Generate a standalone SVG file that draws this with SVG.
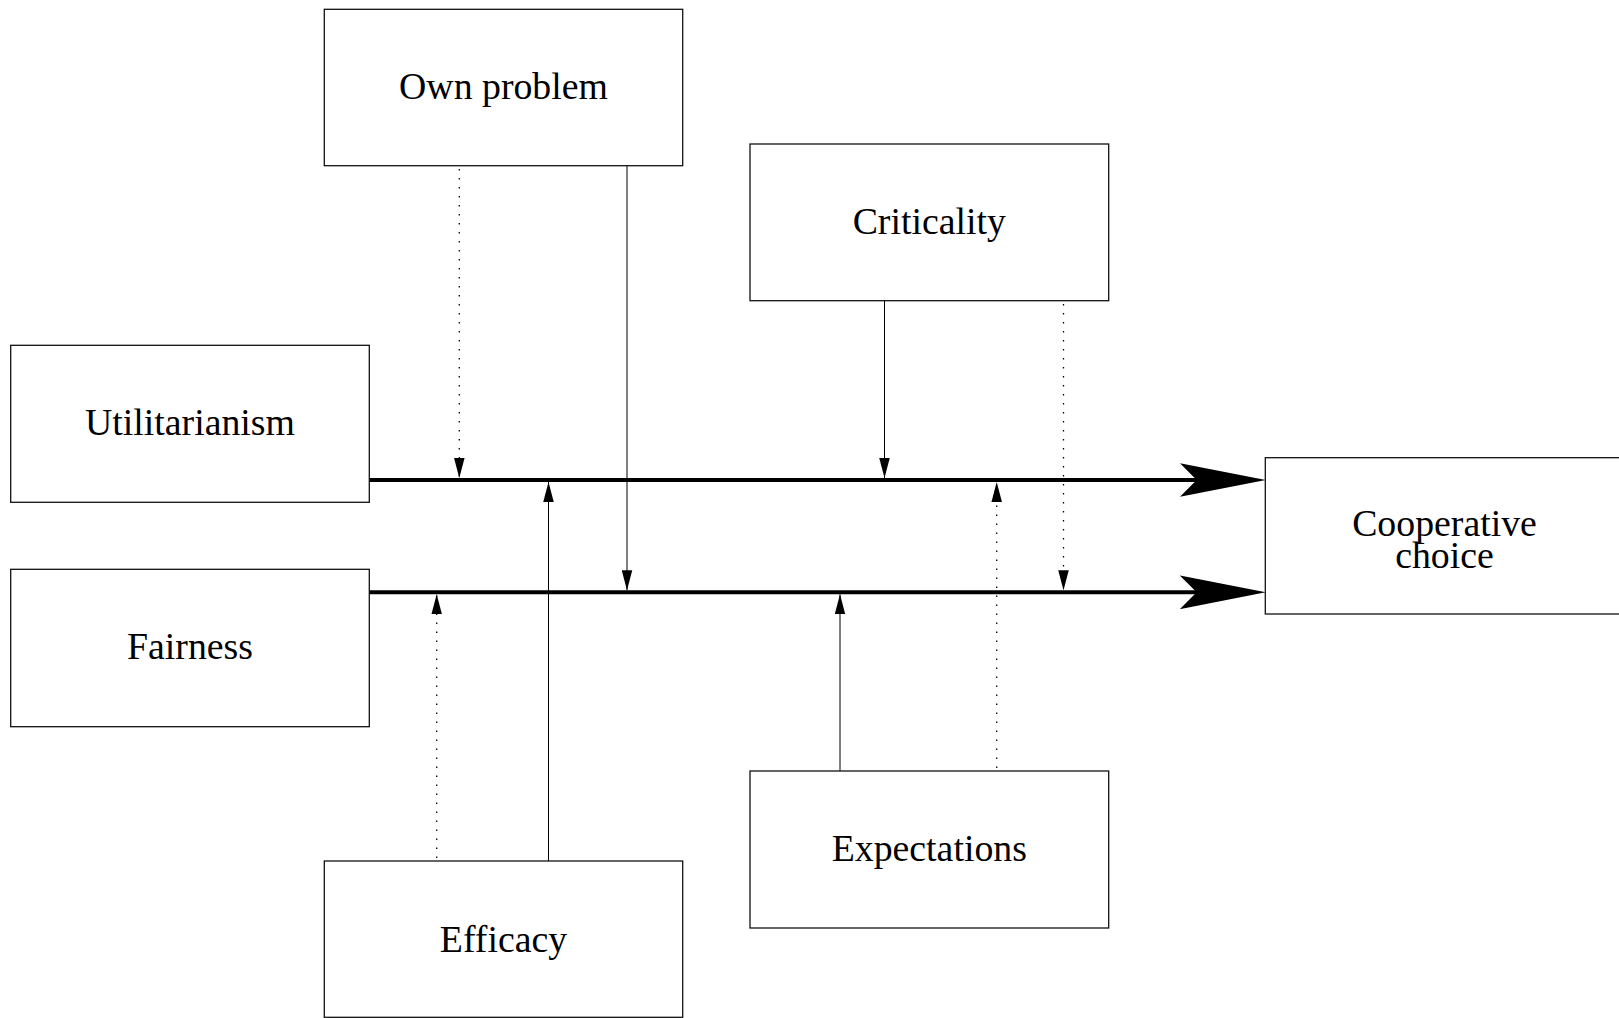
<svg xmlns="http://www.w3.org/2000/svg" width="1619" height="1018" viewBox="0 0 1619 1018">
<style>
.box{fill:#fff;stroke:#111;stroke-width:1.3}
.lbl{font-family:"Liberation Serif","Times New Roman",serif;font-size:37.8px;fill:#000;text-anchor:middle}
.thin{stroke:#000;stroke-width:1;fill:none}
.dot{stroke:#000;stroke-width:1.3;fill:none;stroke-dasharray:1.5 7.5}
.thick{stroke:#000;stroke-width:4;fill:none}
</style>
<defs>
<marker id="ah" markerUnits="userSpaceOnUse" markerWidth="20" markerHeight="11" viewBox="0 0 19 10" refX="19" refY="5" orient="auto">
<path d="M0,0 L19,5 L0,10 Z" fill="#000"/>
</marker>
<marker id="big" markerUnits="userSpaceOnUse" markerWidth="86" markerHeight="34" viewBox="0 0 85 33.4" refX="20" refY="16.7" orient="auto">
<path d="M0,0 L85,16.7 L0,33.4 L16.7,16.7 Z" fill="#000"/>
</marker>
</defs>
<rect width="1619" height="1018" fill="#fff"/>
<g id="connectors">
<line class="thick" x1="369" y1="480" x2="1200" y2="480" marker-end="url(#big)"/>
<line class="thick" x1="369" y1="592.3" x2="1200" y2="592.3" marker-end="url(#big)"/>
<line class="dot" x1="459.3" y1="169" x2="459.3" y2="478" marker-end="url(#ah)"/>
<line class="thin" x1="627" y1="166" x2="627" y2="590.3" marker-end="url(#ah)"/>
<line class="thin" x1="884.5" y1="301" x2="884.5" y2="478" marker-end="url(#ah)"/>
<line class="dot" x1="1063.5" y1="304" x2="1063.5" y2="590.3" marker-end="url(#ah)"/>
<line class="dot" x1="436.7" y1="858" x2="436.7" y2="594.3" marker-end="url(#ah)"/>
<line class="thin" x1="548.5" y1="861" x2="548.5" y2="482" marker-end="url(#ah)"/>
<line class="thin" x1="840" y1="771" x2="840" y2="594.3" marker-end="url(#ah)"/>
<line class="dot" x1="996.7" y1="768" x2="996.7" y2="482" marker-end="url(#ah)"/>
</g>
<g id="own-problem"><rect class="box" x="324.3" y="9.3" width="358.4" height="156.4"/><text class="lbl" x="503.5" y="99">Own problem</text></g>
<g id="criticality"><rect class="box" x="750" y="144" width="358.7" height="156.7"/><text class="lbl" x="929.3" y="234">Criticality</text></g>
<g id="utilitarianism"><rect class="box" x="10.7" y="345.3" width="358.6" height="157"/><text class="lbl" x="190" y="435">Utilitarianism</text></g>
<g id="fairness"><rect class="box" x="10.7" y="569.3" width="358.6" height="157.4"/><text class="lbl" x="190" y="659.3">Fairness</text></g>
<g id="cooperative-choice"><rect class="box" x="1265.3" y="457.7" width="400" height="156.3"/><text class="lbl" x="1444.5" y="536">Cooperative</text><text class="lbl" x="1444.5" y="568.3">choice</text></g>
<g id="expectations"><rect class="box" x="750" y="771" width="358.7" height="157"/><text class="lbl" x="929.3" y="860.7">Expectations</text></g>
<g id="efficacy"><rect class="box" x="324.3" y="861" width="358.4" height="156.3"/><text class="lbl" x="503.5" y="951.7">Efficacy</text></g>
</svg>
